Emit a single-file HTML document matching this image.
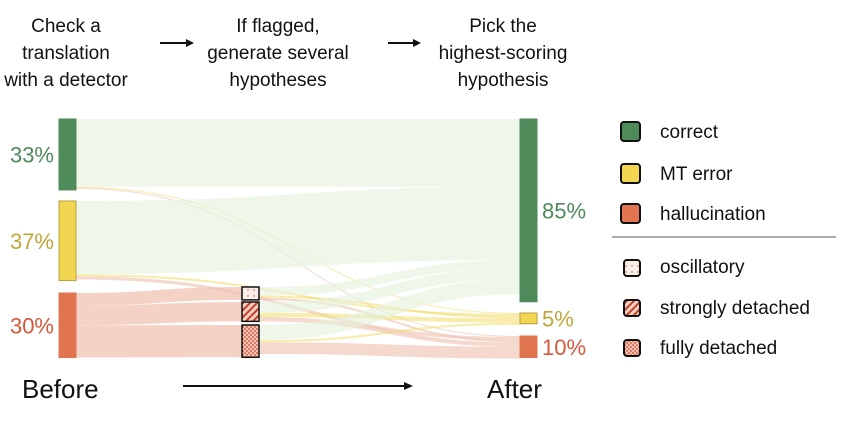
<!DOCTYPE html>
<html><head><meta charset="utf-8"><style>
body{margin:0;background:#fff;width:849px;height:424px;overflow:hidden;font-family:"Liberation Sans","DejaVu Sans",sans-serif;}
svg{display:block}
text{font-family:"Liberation Sans","DejaVu Sans",sans-serif;}
</style></head><body>
<svg id="chart" width="849" height="424" viewBox="0 0 849 424">
<defs>
<pattern id="pOsc" width="6" height="6" patternUnits="userSpaceOnUse"><rect width="6" height="6" fill="#fbeee9"/><circle cx="2" cy="2" r="0.7" fill="#b5523a"/></pattern>
<pattern id="pStrong" width="5" height="5" patternUnits="userSpaceOnUse" patternTransform="rotate(45)"><rect width="5" height="5" fill="#f6cfc0"/><rect width="2" height="5" fill="#c0432b"/></pattern>
<pattern id="pFully" width="4" height="4" patternUnits="userSpaceOnUse"><rect width="4" height="4" fill="#f4c3b2"/><circle cx="1" cy="1" r="0.9" fill="#c9482e"/><circle cx="3" cy="3" r="0.9" fill="#c9482e"/></pattern>
</defs>
<g id="steps" font-size="19" fill="#111" text-anchor="middle">
<text x="66" y="32">Check a</text>
<text x="66" y="59">translation</text>
<text x="66" y="86">with a detector</text>
<text x="278" y="32">If flagged,</text>
<text x="278" y="59">generate several</text>
<text x="278" y="86">hypotheses</text>
<text x="503" y="32">Pick the</text>
<text x="503" y="59">highest-scoring</text>
<text x="503" y="86">hypothesis</text>
</g>
<g><line x1="160" y1="43" x2="187" y2="43" stroke="#111" stroke-width="2"/><polygon points="186,39 194,43 186,47" fill="#111"/></g>
<g><line x1="388" y1="43" x2="414" y2="43" stroke="#111" stroke-width="2"/><polygon points="413,39 421,43 413,47" fill="#111"/></g>
<g id="links"></g>
<g id="nodes"></g>
<g id="labels"></g>
<text x="22" y="398" font-size="26" fill="#111">Before</text>
<text x="487" y="398" font-size="26" fill="#111">After</text>
<g><line x1="183" y1="386" x2="405" y2="386" stroke="#111" stroke-width="2"/><polygon points="404,382 413,386 404,390" fill="#111"/></g>
<g id="legend">
<rect x="621" y="122" width="19" height="19" rx="3" fill="#4f8a5b" stroke="#111" stroke-width="2"/>
<text x="660" y="138" font-size="19" fill="#111">correct</text>
<rect x="621" y="164" width="19" height="19" rx="3" fill="#f2d652" stroke="#111" stroke-width="2"/>
<text x="660" y="180" font-size="19" fill="#111">MT error</text>
<rect x="621" y="204" width="19" height="19" rx="3" fill="#e07550" stroke="#111" stroke-width="2"/>
<text x="660" y="220" font-size="19" fill="#111">hallucination</text>
<line x1="612" y1="237" x2="836" y2="237" stroke="#aaa" stroke-width="2"/>
<rect x="624" y="260" width="16" height="16" rx="3" fill="url(#pOsc)" stroke="#111" stroke-width="2"/>
<text x="660" y="273" font-size="19" fill="#111">oscillatory</text>
<rect x="624" y="300" width="16" height="16" rx="3" fill="url(#pStrong)" stroke="#111" stroke-width="2"/>
<text x="660" y="314" font-size="19" fill="#111">strongly detached</text>
<rect x="624" y="340" width="16" height="16" rx="3" fill="url(#pFully)" stroke="#111" stroke-width="2"/>
<text x="660" y="354" font-size="19" fill="#111">fully detached</text>
</g>
</svg>
<script>
// Node values (percent)
const nodeIds = ["Lc","Lm","Lh","Mo","Ms","Mf","Rc","Rm","Rh"];
const nodeValues = [33,37,30,6,9,15,85,5,10];
const nodeLabels = ["33%","37%","30%","","","","85%","5%","10%"];
// Flows
const linkSources = ["Lc","Lc","Lc","Lm","Lm","Lm","Lh","Lh","Lh","Mo","Mo","Mo","Ms","Ms","Ms","Mf","Mf","Mf"];
const linkTargets = ["Rc","Rm","Rh","Rc","Rm","Rh","Mo","Ms","Mf","Rc","Rm","Rh","Rc","Rm","Rh","Rc","Rm","Rh"];
const linkValues  = [31.5,0.5,0.5,34,1,1.5,6,9,15,4,1,1,5,2,2,7,1,5.5];

// layout (not data)
const K=2.15;
const col={L:59,M:242,R:520}, W=17;
const tops={Lc:119,Lm:201,Lh:293,Mo:287,Ms:302,Mf:325,Rc:119,Rm:313,Rh:336};
const fills={Lc:"#4f8a5b",Lm:"#f2d652",Lh:"#e07550",Mo:"url(#pOsc)",Ms:"url(#pStrong)",Mf:"url(#pFully)",Rc:"#4f8a5b",Rm:"#f2d652",Rh:"#e07550"};
const stroke={Lc:"#4f8a5b",Lm:"#b7a040",Lh:"#e07550",Mo:"#111",Ms:"#111",Mf:"#111",Rc:"#4f8a5b",Rm:"#b7a040",Rh:"#e07550"};
const labelCol={Lc:"#4f8a5b",Lm:"#c2a53a",Lh:"#d9563a",Rc:"#4f8a5b",Rm:"#c2a53a",Rh:"#d9563a"};
const linkCol={Rc:"#e4f1dc",Rm:"#f2dc6a",Rh:"#f0c0ae",Mo:"#f0c0ae",Ms:"#f0c0ae",Mf:"#f0c0ae"};
const linkOp={Rc:0.6,Rm:0.55,Rh:0.6,Mo:0.7,Ms:0.7,Mf:0.7};
const NS="http://www.w3.org/2000/svg";
function nx(id){return col[id[0]];}
function ny(id){return tops[id];}
function nh(id){return nodeValues[nodeIds.indexOf(id)]*K;}
const outOff={}, inOff={};
nodeIds.forEach(id=>{outOff[id]=0;inOff[id]=0;});
const order=linkValues.map((v,i)=>i);
const srcOrder=order.slice().sort((a,b)=>ny(linkTargets[a])-ny(linkTargets[b]));
const sy={}; srcOrder.forEach(i=>{const s=linkSources[i];sy[i]=ny(s)+outOff[s];outOff[s]+=linkValues[i]*K;});
const tgtOrder=order.slice().sort((a,b)=>ny(linkSources[a])-ny(linkSources[b]));
const ty={}; tgtOrder.forEach(i=>{const t=linkTargets[i];ty[i]=ny(t)+inOff[t];inOff[t]+=linkValues[i]*K;});
const gL=document.getElementById('links');
order.forEach(i=>{
  const s=linkSources[i],t=linkTargets[i],h=linkValues[i]*K;
  const x0=nx(s)+W,x1=nx(t),y0=sy[i],y1=ty[i],mx=(x0+x1)/2;
  const p=document.createElementNS(NS,'path');
  p.setAttribute('d',`M${x0},${y0}C${mx},${y0} ${mx},${y1} ${x1},${y1}L${x1},${y1+h}C${mx},${y1+h} ${mx},${y0+h} ${x0},${y0+h}Z`);
  p.setAttribute('fill',linkCol[t]);p.setAttribute('fill-opacity',linkOp[t]);
  
  
  gL.appendChild(p);
});
const gN=document.getElementById('nodes'),gT=document.getElementById('labels');
nodeIds.forEach((id,i)=>{
  const r=document.createElementNS(NS,'rect');
  r.setAttribute('x',nx(id));r.setAttribute('y',ny(id));r.setAttribute('width',W);r.setAttribute('height',nh(id));
  r.setAttribute('fill',fills[id]);r.setAttribute('stroke',stroke[id]);r.setAttribute('stroke-width',id[0]==='M'?1.5:1);
  
  
  gN.appendChild(r);
  if(nodeLabels[i]){
    const t=document.createElementNS(NS,'text');
    const left=id[0]==='L';
    t.setAttribute('x',left?nx(id)-5:nx(id)+W+5);
    t.setAttribute('y',ny(id)+nh(id)/2+8);
    t.setAttribute('text-anchor',left?'end':'start');
    t.setAttribute('font-size','22');t.setAttribute('fill',labelCol[id]);
    t.textContent=nodeLabels[i];
    
    
    gT.appendChild(t);
  }
});
</script>
</body></html>
